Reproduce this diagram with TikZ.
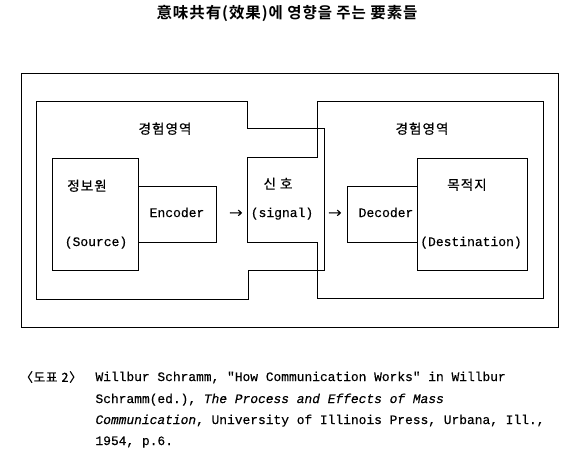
\documentclass[tikz,border=0pt]{standalone}
\usepackage{fontspec}
\newfontfamily\kr[FakeBold=0.5]{Noto Sans CJK KR}
\newfontfamily\krcap[LetterSpace=6,FakeBold=0.8]{Noto Sans CJK KR}
\newfontfamily\krsp[LetterSpace=8,FakeBold=0.6]{Noto Sans CJK KR}
\newfontfamily\krtitle[LetterSpace=6]{Noto Sans CJK KR Bold}
\newfontfamily\lat[FakeBold=0.35]{Liberation Mono}
\begin{document}
\begin{tikzpicture}[x=1pt,y=-1pt,line width=1pt,
  box/.style={draw, inner sep=0pt, outer sep=0pt, anchor=north west},
  lab/.style={inner sep=0pt, text height=0.6em, text depth=0pt, font=\fontsize{13}{15}\lat},
  arr/.style={inner sep=0pt, text height=0.88em, text depth=0.12em, font=\fontsize{13}{15}\kr},
  klab/.style={inner sep=0pt, text height=0.88em, text depth=0.12em, font=\fontsize{13.5}{15}\krsp},
  capline/.style={inner sep=0pt, anchor=west, text height=0.6em, text depth=0pt, font=\fontsize{12.9}{15}\lat},
  ]
\useasboundingbox (0,0) rectangle (569,456);
% title
\node[inner sep=0pt, text height=0.88em, text depth=0.12em, font=\fontsize{15.5}{17}\krtitle] (title) at (287,15) {意味共有(效果)에 영향을 주는 要素들};
% outer frame
\node[box, minimum width=537pt, minimum height=254pt] (outer) at (21,73) {};
% fields of experience
\draw (36,101) -- (247,101) -- (247,128) -- (324,128) -- (324,270) -- (248,270) -- (248,299) -- (36,299) -- cycle;
\draw (317,101) -- (543,101) -- (543,298) -- (317,298) -- (317,242) -- (247,242) -- (247,157) -- (317,157) -- cycle;
% boxes
\node[box, minimum width=86pt, minimum height=112pt] (src) at (52,158) {};
\node[box, minimum width=78pt, minimum height=56pt] (enc) at (138,186) {};
\node[box, minimum width=70pt, minimum height=56pt] (dec) at (347,186) {};
\node[box, minimum width=110pt, minimum height=112pt] (dst) at (417,158) {};
% labels
\node[klab] (expL) at (165,130) {경험영역};
\node[klab] (expR) at (422,130) {경험영역};
\node[klab] (srcK) at (87,187) {정보원};
\node[lab] (srcE) at (96,243) {(Source)};
\node[lab] (encT) at (177,214) {Encoder};
\node[arr] (arr1) at (236,214) {→};
\node[klab] (sigK) at (278,185) {신 호};
\node[lab] (sigE) at (282,214) {(signal)};
\node[arr] (arr2) at (335,214) {→};
\node[lab] (decT) at (386,214) {Decoder};
\node[klab] (dstK) at (467,186) {목적지};
\node[lab] (dstE) at (471,243) {(Destination)};
% caption
\node[inner sep=0pt, anchor=west, text height=0.88em, text depth=0.12em, font=\fontsize{12.5}{14}\krcap] (capno) at (20,378) {〈도표\hspace{4pt}2〉};
\node[capline] (cap1) at (95,378) {Willbur Schramm, "How Communication Works" in Willbur};
\node[capline] (cap2) at (95,400) {Schramm(ed.), \textit{The Process and Effects of Mass}};
\node[capline] (cap3) at (95,421) {\textit{Communication}, University of Illinois Press, Urbana, Ill.,};
\node[capline] (cap4) at (95,442) {1954, p.6.};
\end{tikzpicture}
\end{document}
